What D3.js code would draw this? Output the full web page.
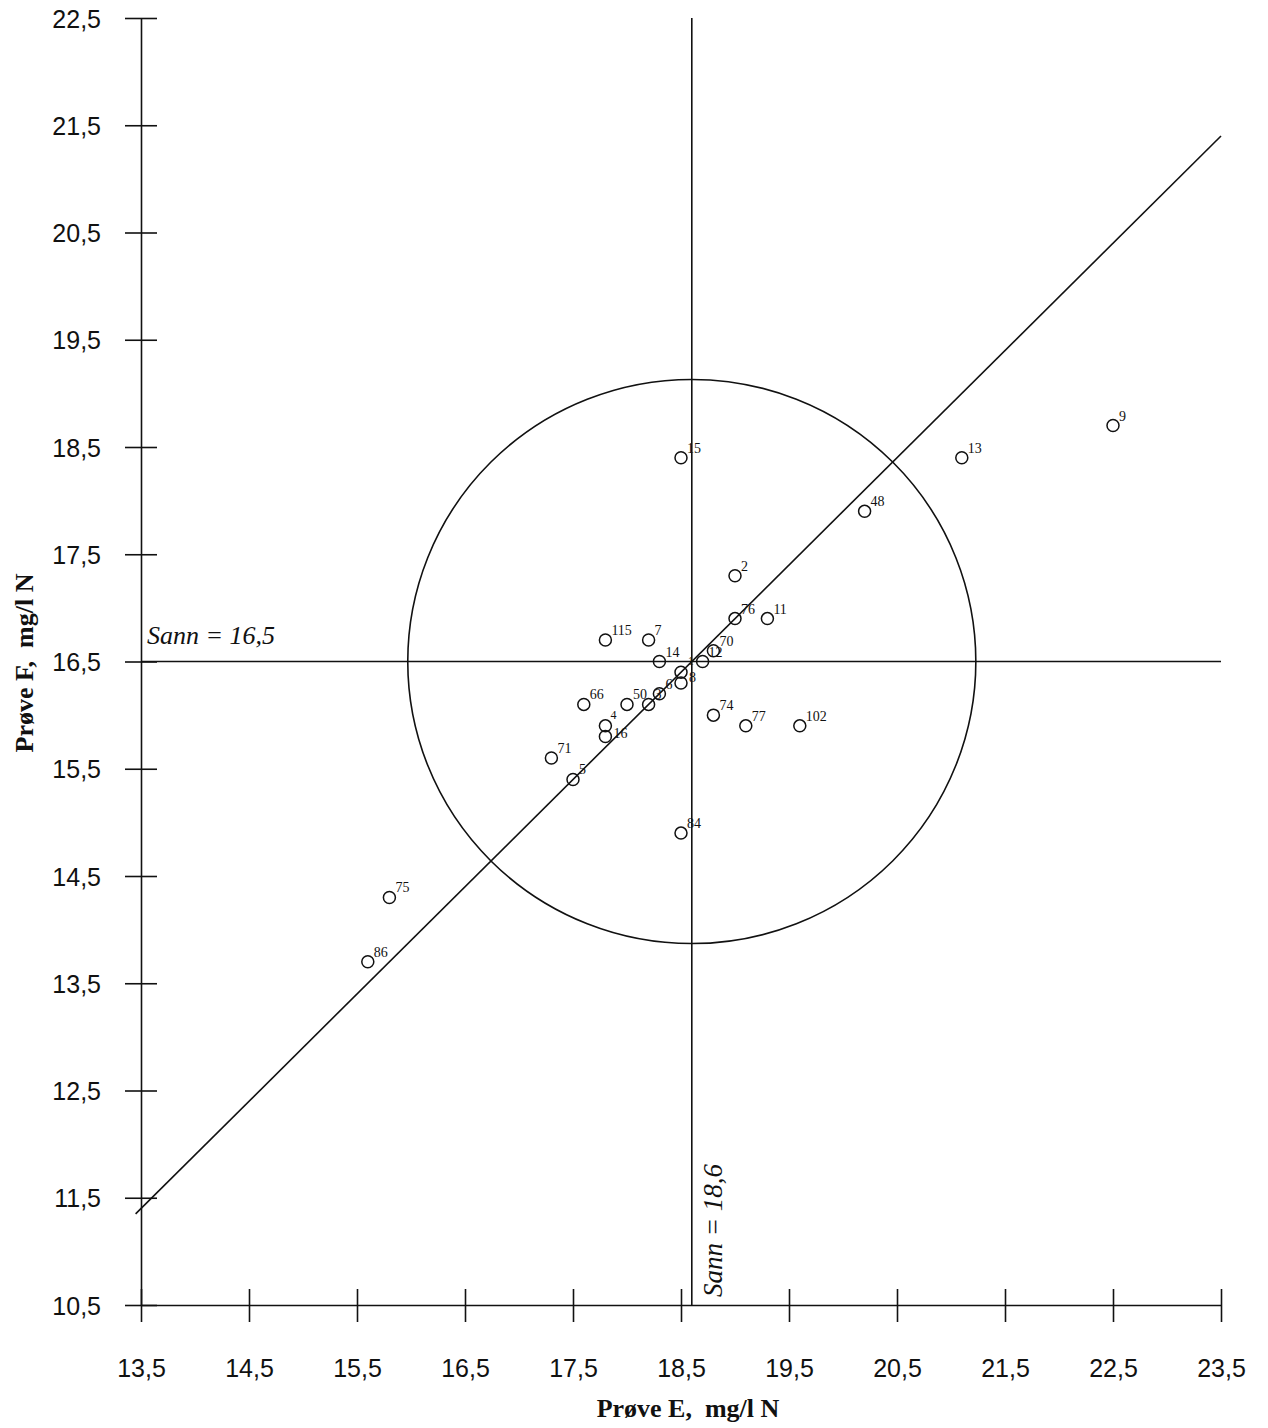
<!DOCTYPE html>
<html>
<head>
<meta charset="utf-8">
<script src="https://cdn.jsdelivr.net/npm/d3@7"></script>
<style>
  html, body { margin: 0; padding: 0; background: #fff; }
  svg { display: block; }
</style>
</head>
<body>
<svg id="chart" width="1268" height="1428"></svg>
<script>
// ---- data ----
const labIds  = ["15","9","13","48","2","76","11","115","7","14","70","12","1","8","6","3","50","66","4","16","71","5","74","77","102","84","75","86"];
const sampleE = [18.5,22.5,21.1,20.2,19.0,19.0,19.3,17.8,18.2,18.3,18.8,18.7,18.5,18.5,18.3,18.2,18.0,17.6,17.8,17.8,17.3,17.5,18.8,19.1,19.6,18.5,15.8,15.6];
const sampleF = [18.4,18.7,18.4,17.9,17.3,16.9,16.9,16.7,16.7,16.5,16.6,16.5,16.4,16.3,16.2,16.1,16.1,16.1,15.9,15.8,15.6,15.4,16.0,15.9,15.9,14.9,14.3,13.7];
const trueE = 18.6;
const trueF = 16.5;
const circleRadius = 2.63;
const xTicks = [13.5,14.5,15.5,16.5,17.5,18.5,19.5,20.5,21.5,22.5,23.5];
const yTicks = [10.5,11.5,12.5,13.5,14.5,15.5,16.5,17.5,18.5,19.5,20.5,21.5,22.5];
const xTitle = "Prøve E,  mg/l N";
const yTitle = "Prøve F,  mg/l N";
const hLabel = "Sann = 16,5";
const vLabel = "Sann = 18,6";

// ---- scales ----
const svg = d3.select("#chart");
const x = d3.scaleLinear().domain([13.5, 23.5]).range([141, 1221]);
const y = d3.scaleLinear().domain([10.5, 22.5]).range([1305, 18]);
const fmt = v => d3.format(".1f")(v).replace(".", ",");
const ink = "#111";

// ---- axes ----
const yAxis = svg.append("g").attr("transform", `translate(${x(13.5)},0)`)
  .call(d3.axisLeft(y).tickValues(yTicks).tickFormat(fmt).tickSizeOuter(0).tickSizeInner(16));
yAxis.select(".domain").attr("stroke", ink).attr("stroke-width", 1.6);
yAxis.selectAll(".tick line").attr("x1", -16).attr("x2", 16).attr("stroke", ink).attr("stroke-width", 1.6);
yAxis.selectAll(".tick text").attr("x", -40).attr("dy", "0.36em")
  .attr("font-family", "Liberation Sans, Arial, sans-serif").attr("font-size", 25).attr("fill", ink);

const xAxis = svg.append("g").attr("transform", `translate(0,${y(10.5)})`)
  .call(d3.axisBottom(x).tickValues(xTicks).tickFormat(fmt).tickSizeOuter(0).tickSizeInner(16));
xAxis.select(".domain").attr("stroke", ink).attr("stroke-width", 1.6);
xAxis.selectAll(".tick line").attr("y1", -16).attr("y2", 17).attr("stroke", ink).attr("stroke-width", 1.6);
xAxis.selectAll(".tick text").attr("y", 72).attr("dy", 0)
  .attr("font-family", "Liberation Sans, Arial, sans-serif").attr("font-size", 25).attr("fill", ink);

// ---- reference lines ----
svg.append("line")
  .attr("x1", x(trueE)).attr("x2", x(trueE)).attr("y1", y(22.5)).attr("y2", y(10.5))
  .attr("stroke", ink).attr("stroke-width", 1.6);
svg.append("line")
  .attr("x1", x(13.5)).attr("x2", x(23.5)).attr("y1", y(trueF)).attr("y2", y(trueF))
  .attr("stroke", ink).attr("stroke-width", 1.6);
// 45-degree line through the true point
const dxy = trueE - trueF;
svg.append("line")
  .attr("x1", x(13.45)).attr("y1", y(13.45 - dxy))
  .attr("x2", x(23.5)).attr("y2", y(23.5 - dxy))
  .attr("stroke", ink).attr("stroke-width", 1.6);
// circle
svg.append("ellipse")
  .attr("cx", x(trueE)).attr("cy", y(trueF))
  .attr("rx", x(trueE + circleRadius) - x(trueE))
  .attr("ry", y(trueF) - y(trueF + circleRadius))
  .attr("fill", "none").attr("stroke", ink).attr("stroke-width", 1.6);

// ---- labels for reference lines ----
svg.append("text")
  .attr("x", x(13.5) + 6).attr("y", y(trueF) - 18)
  .attr("font-family", "Liberation Serif, Times New Roman, serif").attr("font-style", "italic")
  .attr("font-size", 26).attr("fill", ink).text(hLabel);
svg.append("text")
  .attr("transform", `translate(${x(trueE) + 30},${y(10.5) - 8}) rotate(-90)`)
  .attr("font-family", "Liberation Serif, Times New Roman, serif").attr("font-style", "italic")
  .attr("font-size", 27).attr("fill", ink).text(vLabel);

// ---- points ----
const pts = labIds.map((id, i) => ({ id, e: sampleE[i], f: sampleF[i] }));
// crowded labels get a small nudge so they do not sit on top of each other
const nudge = { "1": [7, -7], "8": [8, -1], "4": [5, -7], "16": [8, 1] };
const g = svg.append("g");
g.selectAll("circle").data(pts).join("circle")
  .attr("cx", d => x(d.e)).attr("cy", d => y(d.f)).attr("r", 6)
  .attr("fill", "none").attr("stroke", ink).attr("stroke-width", 1.5);
g.selectAll("text").data(pts).join("text")
  .attr("x", d => x(d.e) + (nudge[d.id] ? nudge[d.id][0] : 6))
  .attr("y", d => y(d.f) + (nudge[d.id] ? nudge[d.id][1] : -5))
  .attr("font-family", "Liberation Serif, Times New Roman, serif")
  .attr("font-size", d => (d.id === "1" || d.id === "4") ? 12 : 14)
  .attr("fill", ink).text(d => d.id);

// ---- axis titles ----
svg.append("text")
  .attr("x", 688).attr("y", 1417).attr("text-anchor", "middle")
  .attr("font-family", "Liberation Serif, Times New Roman, serif").attr("font-weight", "bold")
  .attr("font-size", 26).attr("fill", ink)
  .style("white-space", "pre").text(xTitle);
svg.append("text")
  .attr("transform", "translate(33,663) rotate(-90)").attr("text-anchor", "middle")
  .attr("font-family", "Liberation Serif, Times New Roman, serif").attr("font-weight", "bold")
  .attr("font-size", 26).attr("fill", ink)
  .style("white-space", "pre").text(yTitle);
</script>
</body>
</html>
